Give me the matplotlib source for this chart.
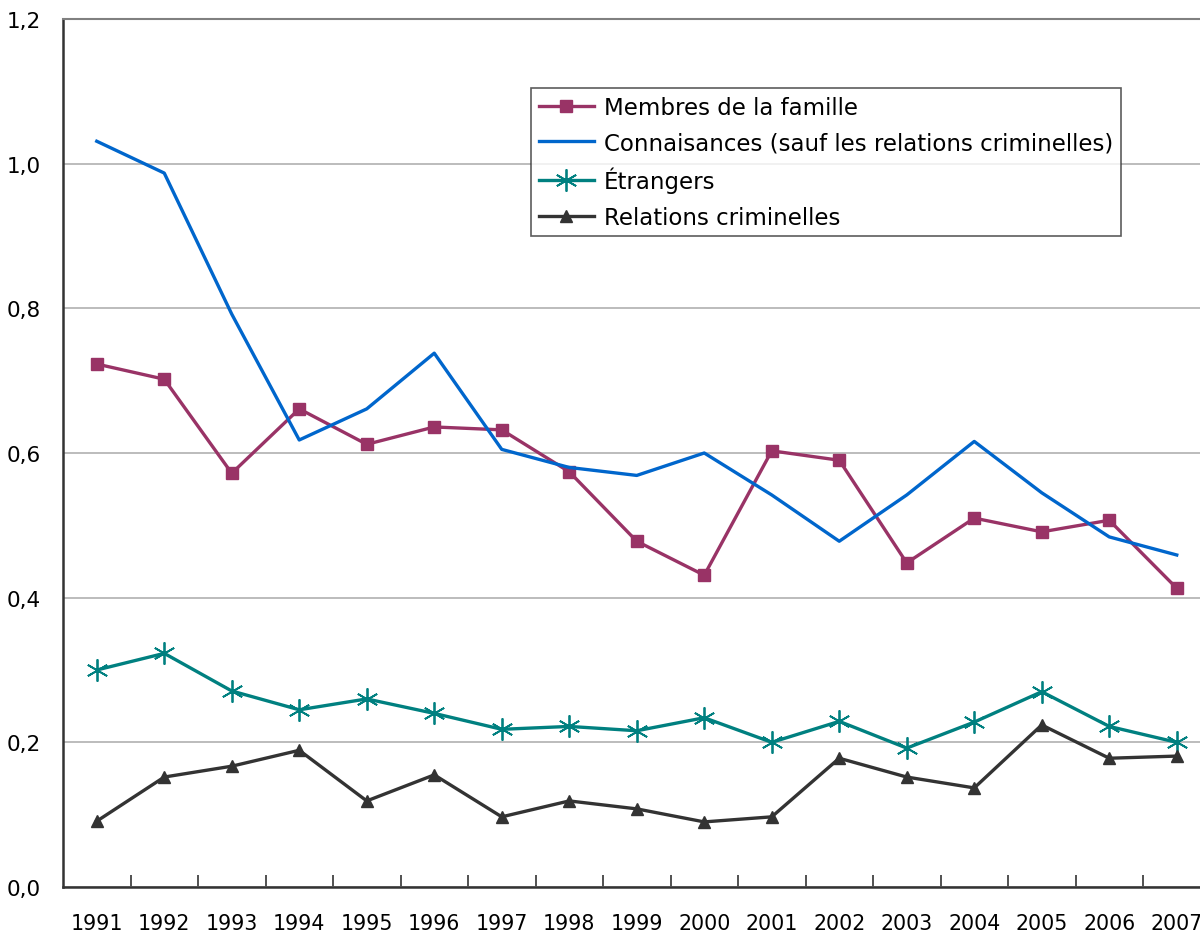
import matplotlib.pyplot as plt
from matplotlib.ticker import FixedLocator, FuncFormatter

plt.rcParams['font.family'] = ['DejaVu Sans']

# Données
annees = [str(a) for a in range(1991, 2008)]
famille = [0.723, 0.702, 0.572, 0.661, 0.612, 0.636, 0.632, 0.574, 0.478,
           0.431, 0.603, 0.590, 0.448, 0.510, 0.491, 0.507, 0.413]
connaissances = [1.031, 0.987, 0.792, 0.618, 0.661, 0.738, 0.605, 0.580, 0.569,
                 0.600, 0.542, 0.478, 0.542, 0.616, 0.545, 0.484, 0.459]
etrangers = [0.300, 0.323, 0.271, 0.245, 0.260, 0.240, 0.218, 0.222, 0.216,
             0.234, 0.200, 0.229, 0.192, 0.228, 0.270, 0.222, 0.200]
criminelles = [0.091, 0.152, 0.167, 0.189, 0.119, 0.155, 0.097, 0.119, 0.108,
               0.090, 0.097, 0.178, 0.152, 0.137, 0.224, 0.178, 0.181]

x = list(range(len(annees)))

fig = plt.figure(figsize=(12, 9.37), dpi=100)
# l'axe dépasse un peu à droite, comme dans l'original
ax = fig.add_axes([63 / 1200, 49 / 937, 1147.5 / 1200, 868 / 937])

ax.plot(x, famille, color='#993366', lw=2.4, marker='s', ms=8,
        label='Membres de la famille', zorder=3)
ax.plot(x, connaissances, color='#0066CC', lw=2.4,
        label='Connaisances (sauf les relations criminelles)', zorder=3)
ax.plot(x, etrangers, color='#008080', lw=2.4, marker=(6, 2, 0), ms=16,
        mew=1.3, label='Étrangers', zorder=3)
ax.plot(x, criminelles, color='#333333', lw=2.4, marker='^', ms=8,
        label='Relations criminelles', zorder=3)

ax.set_xlim(-0.5, len(annees) - 0.5)
ax.set_ylim(0, 1.2)
ax.set_yticks([0, 0.2, 0.4, 0.6, 0.8, 1.0, 1.2])
ax.yaxis.set_major_formatter(FuncFormatter(lambda v, p: f'{v:.1f}'.replace('.', ',')))
ax.yaxis.grid(True, color='#B0B0B0', lw=1.2)
ax.set_axisbelow(True)
ax.tick_params(axis='y', length=0, pad=16, labelsize=15.5)

# ticks entre les catégories, étiquettes au centre
ax.xaxis.set_major_locator(FixedLocator([i + 0.5 for i in x[:-1]]))
ax.xaxis.set_major_formatter(FuncFormatter(lambda v, p: ''))
ax.xaxis.set_minor_locator(FixedLocator(x))
ax.set_xticklabels(annees, minor=True)
ax.tick_params(axis='x', which='major', direction='in', length=9, width=1.2,
               color='#333333')
ax.tick_params(axis='x', which='minor', length=0, pad=19, labelsize=14.8)

for s in ['left', 'bottom']:
    ax.spines[s].set_color('#333333')
    ax.spines[s].set_linewidth(1.8)
ax.spines['top'].set_color('#808080')
ax.spines['top'].set_linewidth(1.5)
ax.spines['right'].set_visible(False)

leg = ax.legend(loc='upper left', bbox_to_anchor=(468 / 1147.5, 1 - 69 / 868),
                fontsize=16.5, frameon=True, fancybox=False, handlelength=2.4,
                handletextpad=0.45, labelspacing=0.55, borderpad=0.33,
                borderaxespad=0)
leg.get_frame().set_edgecolor('#333333')
leg.get_frame().set_linewidth(1.2)

fig.savefig('out.png', dpi=100)
